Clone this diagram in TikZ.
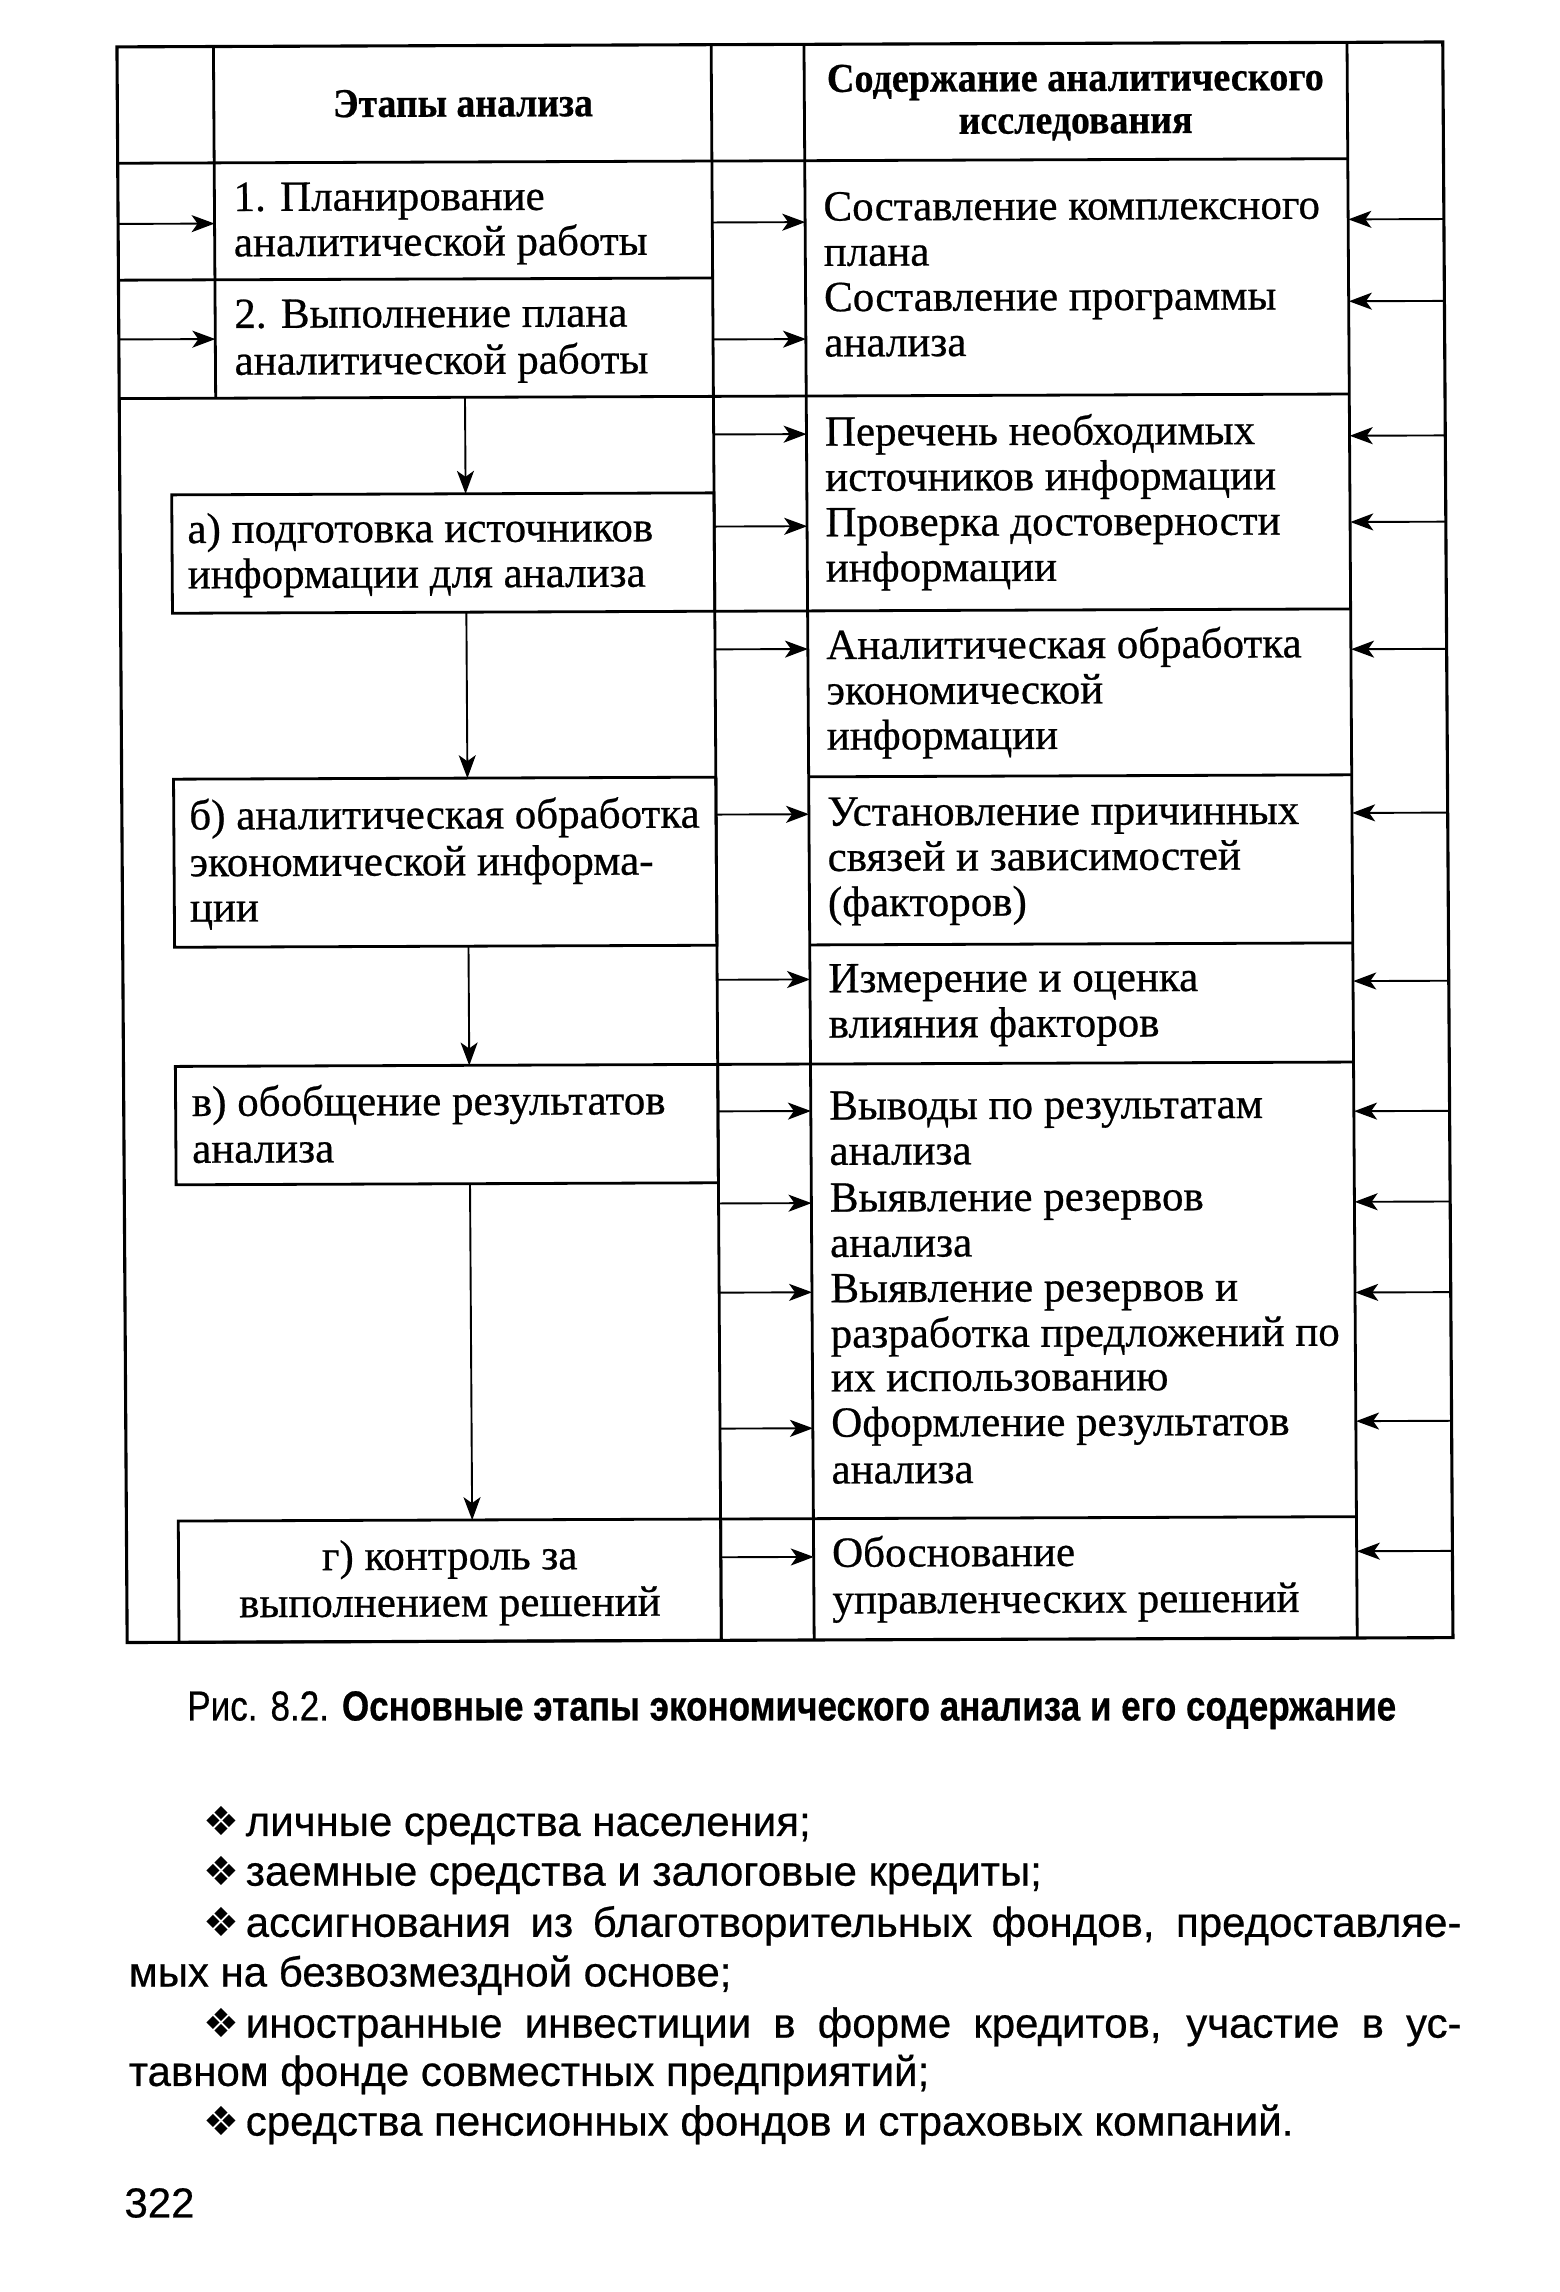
\documentclass[tikz,border=0pt]{standalone}
\usepackage{fontspec}
\usepackage{graphicx}
\setmainfont{Liberation Serif}[FakeBold=0.6]
\newfontfamily\sansf{Liberation Sans}[FakeBold=0.5]
\newfontfamily\symf{DejaVu Sans}
\usetikzlibrary{arrows.meta}
\begin{document}
\begin{tikzpicture}[x=1.462pt,y=-1.462pt,
  tl/.style={line width=2.8pt},
  fr/.style={line width=3.1pt},
  arr/.style={line width=1.9pt,-{Stealth[length=23pt,width=17pt,inset=6pt]}},
  box/.style={draw,line width=2.8pt,rectangle,inner sep=0pt,outer sep=0pt},
  bt/.style={font=\fontsize{43}{47}\selectfont,inner sep=0pt,anchor=base west},
  bc/.style={font=\fontsize{43}{47}\selectfont,inner sep=0pt,anchor=base},
  hd/.style={font=\bfseries\fontsize{41}{45}\selectfont,inner sep=0pt,anchor=base},
  st/.style={font=\sansf\fontsize{42}{46}\selectfont,inner sep=0pt,anchor=base west},
  bul/.style={font=\symf\fontsize{40}{42}\selectfont,inner sep=0pt,anchor=base west},
]
\fill[white] (0,0) rectangle (1067,1568);
\useasboundingbox (0,0) rectangle (1067,1568);

\begin{scope}[cm={1,0.0037,-0.0064,1,(-5.38pt,-2.89pt)},transform shape]
% table lines
\draw[fr] (83.5,30.4) rectangle (990.5,1122);
\draw[tl] (149.5,30.4) -- (149.5,271);
\draw[tl] (490,30.4) -- (490,1122);
\draw[tl] (553.5,30.4) -- (553.5,1122);
\draw[tl] (925,30.4) -- (925,1122);
\draw[tl] (83.5,110) -- (925,110);
\draw[tl] (83.5,190) -- (490,190);
\draw[tl] (83.5,271) -- (925,271);
\draw[tl] (490,418) -- (925,418);
\draw[tl] (553.5,531.5) -- (925,531.5);
\draw[tl] (553.5,646.5) -- (925,646.5);
\draw[tl] (490,728) -- (925,728);
\draw[tl] (490,1039) -- (925,1039);

% stage boxes
\node[box,minimum width=542.4pt,minimum height=118.4pt] (sa) at (304.5,377.5) {};
\node[box,minimum width=542.4pt,minimum height=168.1pt] (sb) at (304.5,589) {};
\node[box,minimum width=542.4pt,minimum height=118.4pt] (sc) at (304.5,768.5) {};
\node[box,minimum width=542.4pt,minimum height=121.3pt] (sd) at (304.5,1080.5) {};

% down arrows
\coordinate (d0) at (320,271);   \coordinate (d1) at (320,337);
\coordinate (d2) at (320,418);   \coordinate (d3) at (320,531.5);
\coordinate (d4) at (320,646.5); \coordinate (d5) at (320,728);
\coordinate (d6) at (320,809);   \coordinate (d7) at (320,1039);
\draw[arr] (d0) -- (d1);
\draw[arr] (d2) -- (d3);
\draw[arr] (d4) -- (d5);
\draw[arr] (d6) -- (d7);

% arrows
\foreach \y [count=\i] in {151.5,230.5}
  {\coordinate (la\i) at (83.5,\y); \coordinate (lb\i) at (149.5,\y); \draw[arr] (la\i) -- (lb\i);}
\foreach \y [count=\i] in {152,232,297,360,444,557,670,760,823,884,977,1065}
  {\coordinate (ma\i) at (490,\y); \coordinate (mb\i) at (553.5,\y); \draw[arr] (ma\i) -- (mb\i);}
\foreach \y [count=\i] in {151.5,207.5,299.5,358.5,445.5,557.5,672.5,761.5,823.5,885.5,973.5,1062.5}
  {\coordinate (ra\i) at (990.5,\y); \coordinate (rb\i) at (925,\y); \draw[arr] (ra\i) -- (rb\i);}

% headers
\node[hd] (h1) at (320,79) {\resizebox{260pt}{\height}{Этапы анализа}};
\node[hd] (h2) at (739,63) {\resizebox{497pt}{\height}{Содержание аналитического}};
\node[hd] (h3) at (739,92) {\resizebox{234pt}{\height}{исследования}};

% stage texts
\node[bt] (t11) at (162.5,143) {1. Планирование};
\node[bt] (t12) at (162.5,174) {аналитической работы};
\node[bt] (t21) at (162.5,223) {2. Выполнение плана};
\node[bt] (t22) at (162.5,255) {аналитической работы};
\node[bt] (ta1) at (129.5,370) {а) подготовка источников};
\node[bt] (ta2) at (129.5,401) {информации для анализа};
\node[bt] (tb1) at (129.5,566) {б) аналитическая обработка};
\node[bt] (tb2) at (129.5,598) {экономической информа-};
\node[bt] (tb3) at (129.5,629) {ции};
\node[bt] (tc1) at (130,762) {в) обобщение результатов};
\node[bt] (tc2) at (130,794) {анализа};
\node[bc] (td1) at (304.5,1073) {г) контроль за};
\node[bc] (td2) at (304.5,1105) {выполнением решений};

% content texts
\node[bt] (cA1) at (566,151) {Составление комплексного};
\node[bt] (cA2) at (566,182) {плана};
\node[bt] (cA3) at (566,213) {Составление программы};
\node[bt] (cA4) at (566,244) {анализа};
\node[bt] (cB1) at (566,305) {Перечень необходимых};
\node[bt] (cB2) at (566,336) {источников информации};
\node[bt] (cB3) at (566,367) {Проверка достоверности};
\node[bt] (cB4) at (566,398) {информации};
\node[bt] (cC1) at (566,451) {Аналитическая обработка};
\node[bt] (cC2) at (566,482) {экономической};
\node[bt] (cC3) at (566,513) {информации};
\node[bt] (cD1) at (566,565) {Установление причинных};
\node[bt] (cD2) at (566,596) {связей и зависимостей};
\node[bt] (cD3) at (566,627) {(факторов)};
\node[bt] (cE1) at (566,679) {Измерение и оценка};
\node[bt] (cE2) at (566,710) {влияния факторов};
\node[bt] (cF1) at (566,766) {Выводы по результатам};
\node[bt] (cF2) at (566,797) {анализа};
\node[bt] (cF3) at (566,829) {Выявление резервов};
\node[bt] (cF4) at (566,860) {анализа};
\node[bt] (cF5) at (566,891) {Выявление резервов и};
\node[bt] (cF6) at (566,922) {разработка предложений по};
\node[bt] (cF7) at (566,952) {их использованию};
\node[bt] (cF8) at (566,983) {Оформление результатов};
\node[bt] (cF9) at (566,1015) {анализа};
\node[bt] (cG1) at (566,1072) {Обоснование};
\node[bt] (cG2) at (566,1104) {управленческих решений};
\end{scope}

% caption
\node[anchor=base west,inner sep=0pt,font=\sansf\fontsize{42}{44}\selectfont] (cap) at (128,1177)
  {\resizebox{1209pt}{\height}{Рис. 8.2. \textbf{Основные этапы экономического анализа и его содержание}}};

% bullet list
\node[bul] (k1) at (139,1256) {❖};
\node[st] (l1) at (168,1256) {личные средства населения;};
\node[bul] (k2) at (139,1290) {❖};
\node[st] (l2) at (168,1290) {заемные средства и залоговые кредиты;};
\node[bul] (k3) at (139,1325) {❖};
\node[st] (l3) at (168,1325) {\makebox[1216pt][s]{ассигнования из благотворительных фондов, предоставляе-}};
\node[st] (l4) at (88,1359) {мых на безвозмездной основе;};
\node[bul] (k5) at (139,1394) {❖};
\node[st] (l5) at (168,1394) {\makebox[1216pt][s]{иностранные инвестиции в форме кредитов, участие в ус-}};
\node[st] (l6) at (88,1427) {тавном фонде совместных предприятий;};
\node[bul] (k7) at (139,1461) {❖};
\node[st] (l7) at (168,1461) {средства пенсионных фондов и страховых компаний.};
\node[st] (pg) at (85,1517) {322};
\end{tikzpicture}
\end{document}
